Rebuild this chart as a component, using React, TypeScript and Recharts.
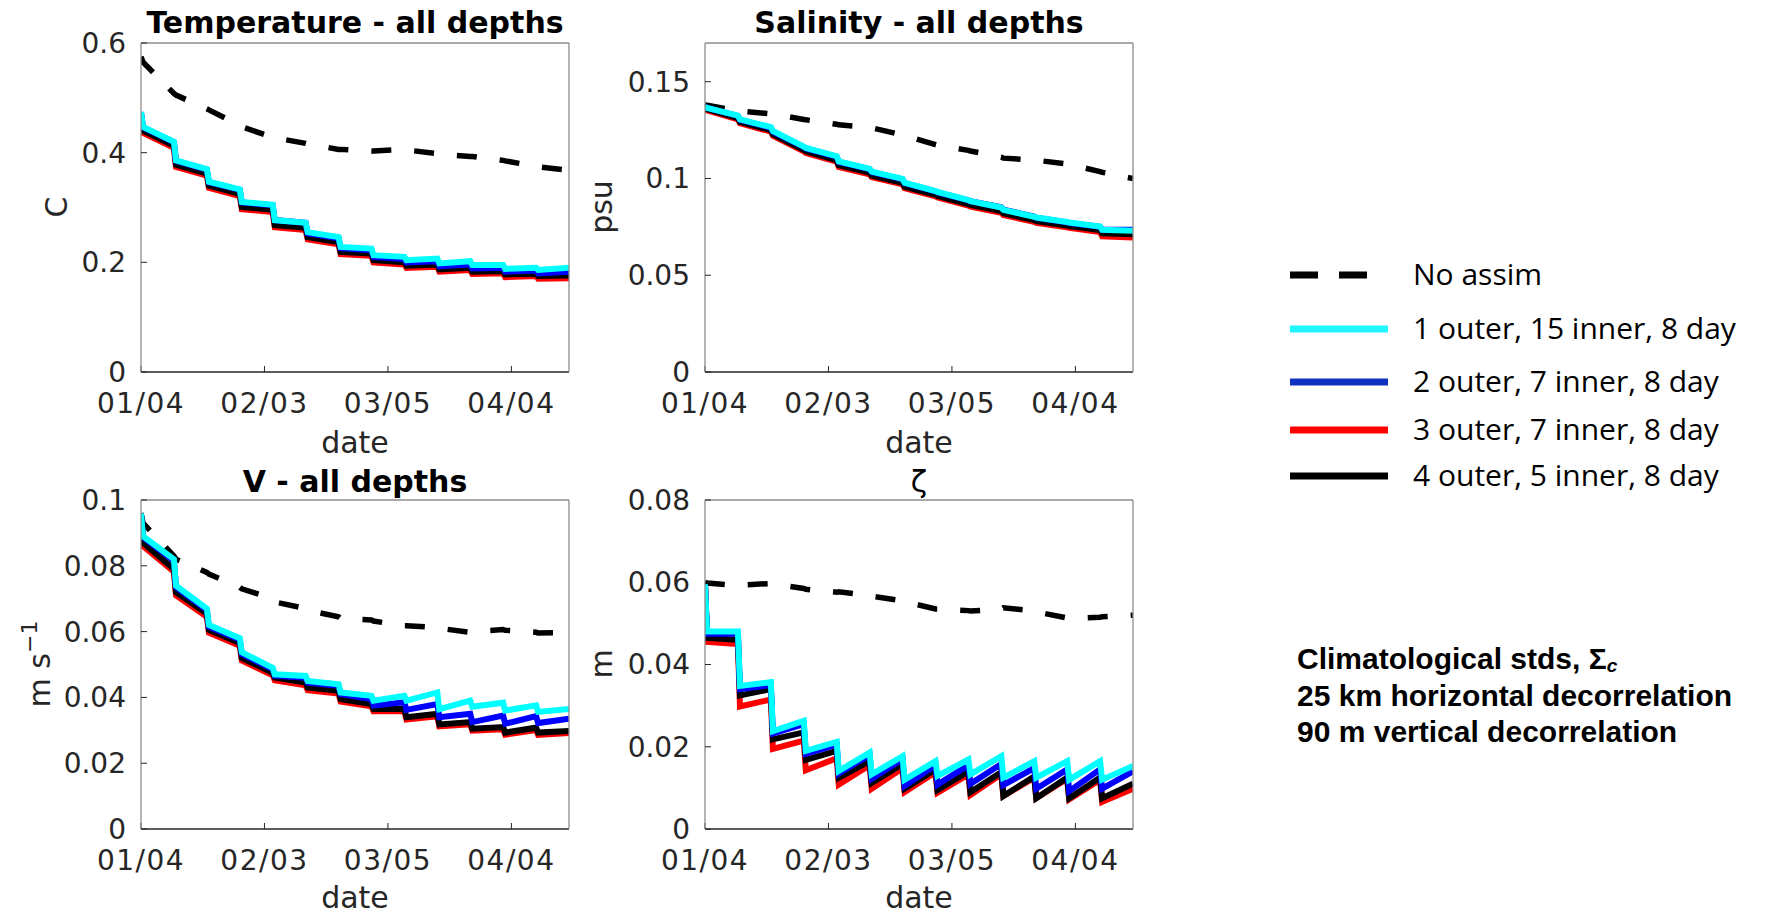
import React from "react";
import { LineChart, Line, XAxis, YAxis } from "recharts";

// days since 01/04; each 8-day cycle has a point at its start and half a day later
const DAYS = [0, 0.5, 8, 8.5, 16, 16.5, 24, 24.5, 32, 32.5, 40, 40.5, 48, 48.5, 56, 56.5, 64, 64.5, 72, 72.5, 80, 80.5, 88, 88.5, 96, 96.5, 104];
const DATE_TICKS = [0, 30, 60, 90];
const DATE_LABELS = ["01/04", "02/03", "03/05", "04/04"];

const LEGEND_NAMES = ["No assim", "1 outer, 15 inner, 8 day", "2 outer, 7 inner, 8 day", "3 outer, 7 inner, 8 day", "4 outer, 5 inner, 8 day"];

// Temperature - all depths (C)
const tempNoAssim = [0.575, 0.565, 0.508, 0.505, 0.48, 0.478, 0.45, 0.447, 0.428, 0.427, 0.417, 0.416, 0.406, 0.406, 0.403, 0.403, 0.406, 0.405, 0.398, 0.397, 0.393, 0.393, 0.386, 0.385, 0.375, 0.374, 0.368];
const tempOuter1 = [0.474, 0.447, 0.42, 0.386, 0.37, 0.347, 0.333, 0.31, 0.305, 0.277, 0.272, 0.255, 0.246, 0.228, 0.225, 0.213, 0.21, 0.204, 0.207, 0.198, 0.202, 0.195, 0.195, 0.188, 0.19, 0.186, 0.19];
const tempOuter2 = [0.474, 0.446, 0.419, 0.385, 0.369, 0.346, 0.332, 0.309, 0.304, 0.277, 0.272, 0.253, 0.244, 0.226, 0.222, 0.21, 0.206, 0.2, 0.202, 0.193, 0.196, 0.189, 0.19, 0.183, 0.185, 0.18, 0.183];
const tempOuter3 = [0.465, 0.436, 0.409, 0.374, 0.358, 0.336, 0.321, 0.297, 0.292, 0.264, 0.259, 0.242, 0.233, 0.215, 0.212, 0.2, 0.196, 0.19, 0.192, 0.183, 0.186, 0.179, 0.18, 0.173, 0.175, 0.17, 0.171];
const tempOuter4 = [0.468, 0.44, 0.413, 0.378, 0.362, 0.34, 0.325, 0.301, 0.296, 0.268, 0.263, 0.246, 0.237, 0.219, 0.216, 0.204, 0.2, 0.194, 0.196, 0.187, 0.19, 0.183, 0.184, 0.178, 0.179, 0.175, 0.176];

// Salinity - all depths (psu)
const saltNoAssim = [0.138, 0.1378, 0.135, 0.1348, 0.1334, 0.1333, 0.1305, 0.1303, 0.128, 0.1277, 0.1265, 0.1262, 0.1225, 0.1222, 0.1175, 0.1172, 0.1145, 0.1142, 0.111, 0.1105, 0.1095, 0.1094, 0.1075, 0.1073, 0.1035, 0.1032, 0.1];
const saltOuter1 = [0.137, 0.1365, 0.1325, 0.1305, 0.1265, 0.1245, 0.1165, 0.1158, 0.1115, 0.1088, 0.105, 0.1035, 0.0998, 0.0978, 0.0935, 0.093, 0.0888, 0.0883, 0.085, 0.0838, 0.0802, 0.0798, 0.0775, 0.0772, 0.0752, 0.0735, 0.073];
const saltOuter2 = [0.137, 0.1365, 0.1323, 0.1303, 0.1262, 0.1242, 0.1162, 0.1155, 0.1112, 0.1085, 0.1048, 0.1033, 0.0996, 0.0976, 0.0933, 0.0928, 0.0887, 0.0882, 0.0851, 0.0839, 0.0803, 0.0797, 0.0773, 0.077, 0.075, 0.0736, 0.0735];
const saltOuter3 = [0.1365, 0.1352, 0.1305, 0.1285, 0.1242, 0.122, 0.114, 0.1132, 0.1087, 0.106, 0.1022, 0.1007, 0.097, 0.095, 0.0907, 0.0902, 0.086, 0.0855, 0.0823, 0.0811, 0.0776, 0.0771, 0.0748, 0.0745, 0.0723, 0.0701, 0.0695];
const saltOuter4 = [0.1375, 0.1358, 0.1312, 0.1292, 0.125, 0.1228, 0.1148, 0.114, 0.1095, 0.1068, 0.103, 0.1015, 0.0978, 0.0958, 0.0915, 0.091, 0.0868, 0.0863, 0.0832, 0.082, 0.0785, 0.078, 0.0757, 0.0754, 0.0733, 0.0717, 0.0712];

// V - all depths (m s-1)
const vNoAssim = [0.096, 0.093, 0.083, 0.082, 0.078, 0.0775, 0.0735, 0.073, 0.07, 0.069, 0.067, 0.0665, 0.0645, 0.064, 0.0635, 0.0632, 0.0618, 0.0618, 0.0612, 0.061, 0.0598, 0.06, 0.0606, 0.0604, 0.0598, 0.0596, 0.0597];
const vOuter1 = [0.0959, 0.089, 0.082, 0.074, 0.067, 0.062, 0.058, 0.0537, 0.049, 0.047, 0.0465, 0.045, 0.044, 0.0415, 0.0405, 0.039, 0.0405, 0.039, 0.0415, 0.0364, 0.039, 0.0372, 0.0384, 0.036, 0.0376, 0.0356, 0.0365];
const vOuter2 = [0.0957, 0.0887, 0.0815, 0.0735, 0.0665, 0.0615, 0.0575, 0.0532, 0.0485, 0.0466, 0.046, 0.0445, 0.0435, 0.041, 0.0395, 0.0375, 0.0385, 0.0362, 0.038, 0.034, 0.035, 0.0325, 0.0345, 0.032, 0.0343, 0.0322, 0.0335];
const vOuter3 = [0.095, 0.086, 0.0782, 0.071, 0.0645, 0.0597, 0.0557, 0.0512, 0.0467, 0.0452, 0.0437, 0.0422, 0.0412, 0.0387, 0.0373, 0.0358, 0.0358, 0.0333, 0.0343, 0.0312, 0.0318, 0.0299, 0.0303, 0.0287, 0.0301, 0.0286, 0.0292];
const vOuter4 = [0.0955, 0.087, 0.079, 0.072, 0.0655, 0.0605, 0.0565, 0.052, 0.0475, 0.046, 0.0445, 0.043, 0.042, 0.0395, 0.038, 0.0365, 0.0365, 0.034, 0.035, 0.0318, 0.0325, 0.0305, 0.031, 0.0293, 0.0308, 0.0293, 0.0298];

// zeta (m)
const zetaNoAssim = [0.06, 0.0598, 0.0592, 0.0593, 0.0597, 0.0596, 0.0585, 0.0583, 0.0576, 0.0577, 0.0568, 0.0566, 0.0555, 0.0553, 0.0535, 0.0535, 0.0531, 0.053, 0.0535, 0.0538, 0.053, 0.0528, 0.0513, 0.0512, 0.0515, 0.0516, 0.052];
const zetaOuter1 = [0.0595, 0.048, 0.048, 0.0348, 0.0357, 0.0238, 0.0263, 0.019, 0.0212, 0.0141, 0.0186, 0.0133, 0.0177, 0.012, 0.0165, 0.0129, 0.0169, 0.0133, 0.0177, 0.0125, 0.0165, 0.0125, 0.0165, 0.012, 0.0165, 0.012, 0.0153];
const zetaOuter2 = [0.0595, 0.0475, 0.0475, 0.034, 0.035, 0.0232, 0.0255, 0.0183, 0.0205, 0.0135, 0.018, 0.0122, 0.017, 0.0105, 0.0155, 0.0108, 0.0155, 0.011, 0.0158, 0.0107, 0.0148, 0.0098, 0.0145, 0.0092, 0.0145, 0.0098, 0.014];
const zetaOuter3 = [0.0595, 0.0455, 0.045, 0.0298, 0.0315, 0.0195, 0.0215, 0.0143, 0.0172, 0.0108, 0.0155, 0.0098, 0.0148, 0.009, 0.0138, 0.0088, 0.0133, 0.0083, 0.0133, 0.008, 0.0125, 0.0075, 0.0122, 0.0072, 0.012, 0.0066, 0.0098];
const zetaOuter4 = [0.0595, 0.0465, 0.046, 0.0325, 0.034, 0.0218, 0.0235, 0.0168, 0.019, 0.0125, 0.0165, 0.0112, 0.0158, 0.0098, 0.0145, 0.0095, 0.014, 0.009, 0.0138, 0.008, 0.0128, 0.0075, 0.0125, 0.0075, 0.0125, 0.0075, 0.011];

const PLOT_W = 428;
const PLOT_H = 329;
const PAD_L = 100;
const PAD_T = 20;
const PAD_R = 20;
const PAD_B = 70;

const AXIS = "#262626";
const FRAME = "#8c8c8c";
const tickFont = { fill: AXIS, fontSize: 28, fontFamily: "DejaVu Sans" };

interface IPanelProps {
  left: number;
  top: number;
  yMax: number;
  yTicks: number[];
  noAssim: number[];
  outer1: number[];
  outer2: number[];
  outer3: number[];
  outer4: number[];
}

const Panel = ({ left, top, yMax, yTicks, noAssim, outer1, outer2, outer3, outer4 }: IPanelProps) => {
  const data = DAYS.map((day, i) => ({
    day,
    noAssim: noAssim[i],
    outer1: outer1[i],
    outer2: outer2[i],
    outer3: outer3[i],
    outer4: outer4[i],
  }));

  return (
    <div style={{ position: "absolute", left: left - PAD_L, top: top - PAD_T }}>
      <LineChart
        width={PLOT_W + PAD_L + PAD_R}
        height={PLOT_H + PAD_T + PAD_B}
        data={data}
        margin={{ top: PAD_T - 1, right: PAD_R - 1, bottom: PAD_B - 1, left: PAD_L - 1 }}
      >
        <XAxis
          dataKey="day"
          type="number"
          domain={[0, 104]}
          ticks={DATE_TICKS}
          tickFormatter={(v: number) => DATE_LABELS[DATE_TICKS.indexOf(v)]}
          interval={0}
          height={1}
          tickSize={-6}
          tickMargin={27}
          axisLine={{ stroke: AXIS, strokeWidth: 1.3 }}
          tickLine={{ stroke: AXIS }}
          tick={{ ...tickFont, letterSpacing: 1.5 }}
          allowDataOverflow
        />
        <XAxis
          xAxisId="top"
          orientation="top"
          type="number"
          domain={[0, 104]}
          ticks={DATE_TICKS}
          interval={0}
          height={1}
          tickSize={-6}
          axisLine={{ stroke: FRAME, strokeWidth: 1.3 }}
          tickLine={{ stroke: AXIS }}
          tick={false}
          allowDataOverflow
        />
        <YAxis
          type="number"
          domain={[0, yMax]}
          ticks={yTicks}
          interval={0}
          width={1}
          tickSize={-6}
          tickMargin={21}
          axisLine={{ stroke: FRAME, strokeWidth: 1.3 }}
          tickLine={{ stroke: AXIS }}
          tick={tickFont}
          allowDataOverflow
        />
        <YAxis
          yAxisId="r"
          orientation="right"
          type="number"
          domain={[0, yMax]}
          ticks={yTicks}
          interval={0}
          width={1}
          tickSize={-6}
          axisLine={{ stroke: FRAME, strokeWidth: 1.3 }}
          tickLine={{ stroke: AXIS }}
          tick={false}
          allowDataOverflow
        />
        <Line dataKey="noAssim" stroke="#000000" strokeWidth={5.5} strokeDasharray="20 23" dot={false} isAnimationActive={false} />
        <Line dataKey="outer3" stroke="#ff0000" strokeWidth={6} dot={false} isAnimationActive={false} />
        <Line dataKey="outer4" stroke="#000000" strokeWidth={6} dot={false} isAnimationActive={false} />
        <Line dataKey="outer2" stroke="#0000ff" strokeWidth={6} dot={false} isAnimationActive={false} />
        <Line dataKey="outer1" stroke="#00ffff" strokeWidth={6} dot={false} isAnimationActive={false} />
      </LineChart>
    </div>
  );
};

const LEGEND_COLORS = ["#000000", "#1ff6ff", "#1030c0", "#ff0000", "#000000"];
const LEGEND_ROWS = [275, 329, 382, 430, 476];

const Annotations = () => {
  const title = { fontFamily: "DejaVu Sans", fontWeight: "bold" as const, fontSize: 30, fill: "#000" };
  const label = { fontFamily: "DejaVu Sans", fontSize: 30, fill: AXIS };
  const note = { fontFamily: "Liberation Sans", fontWeight: "bold" as const, fontSize: 30, fill: "#000" };
  return (
    <svg width={1766} height={915} style={{ position: "absolute", left: 0, top: 0, pointerEvents: "none" }}>
      <text x={355} y={33} textAnchor="middle" {...title}>Temperature - all depths</text>
      <text x={919} y={33} textAnchor="middle" {...title}>Salinity - all depths</text>
      <text x={355} y={492} textAnchor="middle" {...title}>V - all depths</text>
      <text x={919} y={492} textAnchor="middle" fontFamily="DejaVu Sans" fontSize={30} fill="#000">ζ</text>

      <text x={355} y={453} textAnchor="middle" {...label}>date</text>
      <text x={919} y={453} textAnchor="middle" {...label}>date</text>
      <text x={355} y={908} textAnchor="middle" {...label}>date</text>
      <text x={919} y={908} textAnchor="middle" {...label}>date</text>

      <text transform="translate(67,207) rotate(-90)" textAnchor="middle" {...label}>C</text>
      <text transform="translate(612,207) rotate(-90)" textAnchor="middle" {...label}>psu</text>
      <text transform="translate(50,664) rotate(-90)" textAnchor="middle" {...label}>
        m s<tspan dy={-13} fontSize={22}>−1</tspan>
      </text>
      <text transform="translate(612,664) rotate(-90)" textAnchor="middle" {...label}>m</text>

      {LEGEND_NAMES.map((name, i) => (
        <g key={name}>
          <line
            x1={1290}
            x2={1388}
            y1={LEGEND_ROWS[i]}
            y2={LEGEND_ROWS[i]}
            stroke={LEGEND_COLORS[i]}
            strokeWidth={7}
            strokeDasharray={i === 0 ? "28 21" : undefined}
          />
          <text x={1413} y={LEGEND_ROWS[i] + 10} fontFamily="Open Sans" fontSize={30} fill="#000">
            {name}
          </text>
        </g>
      ))}

      <text x={1297} y={669} {...note}>
        Climatological stds, Σ<tspan dy={3} fontSize={19} fontStyle="italic">c</tspan>
      </text>
      <text x={1297} y={706} {...note}>25 km horizontal decorrelation</text>
      <text x={1297} y={742} {...note}>90 m vertical decorrelation</text>
    </svg>
  );
};

const App = () => {
  return (
    <div style={{ position: "relative", width: 1766, height: 915, background: "#fff" }}>
      <style>{"body{margin:0}"}</style>
      <Panel left={141} top={43} yMax={0.6} yTicks={[0, 0.2, 0.4, 0.6]} noAssim={tempNoAssim} outer1={tempOuter1} outer2={tempOuter2} outer3={tempOuter3} outer4={tempOuter4} />
      <Panel left={705} top={43} yMax={0.17} yTicks={[0, 0.05, 0.1, 0.15]} noAssim={saltNoAssim} outer1={saltOuter1} outer2={saltOuter2} outer3={saltOuter3} outer4={saltOuter4} />
      <Panel left={141} top={500} yMax={0.1} yTicks={[0, 0.02, 0.04, 0.06, 0.08, 0.1]} noAssim={vNoAssim} outer1={vOuter1} outer2={vOuter2} outer3={vOuter3} outer4={vOuter4} />
      <Panel left={705} top={500} yMax={0.08} yTicks={[0, 0.02, 0.04, 0.06, 0.08]} noAssim={zetaNoAssim} outer1={zetaOuter1} outer2={zetaOuter2} outer3={zetaOuter3} outer4={zetaOuter4} />
      <Annotations />
    </div>
  );
};

export default App;
